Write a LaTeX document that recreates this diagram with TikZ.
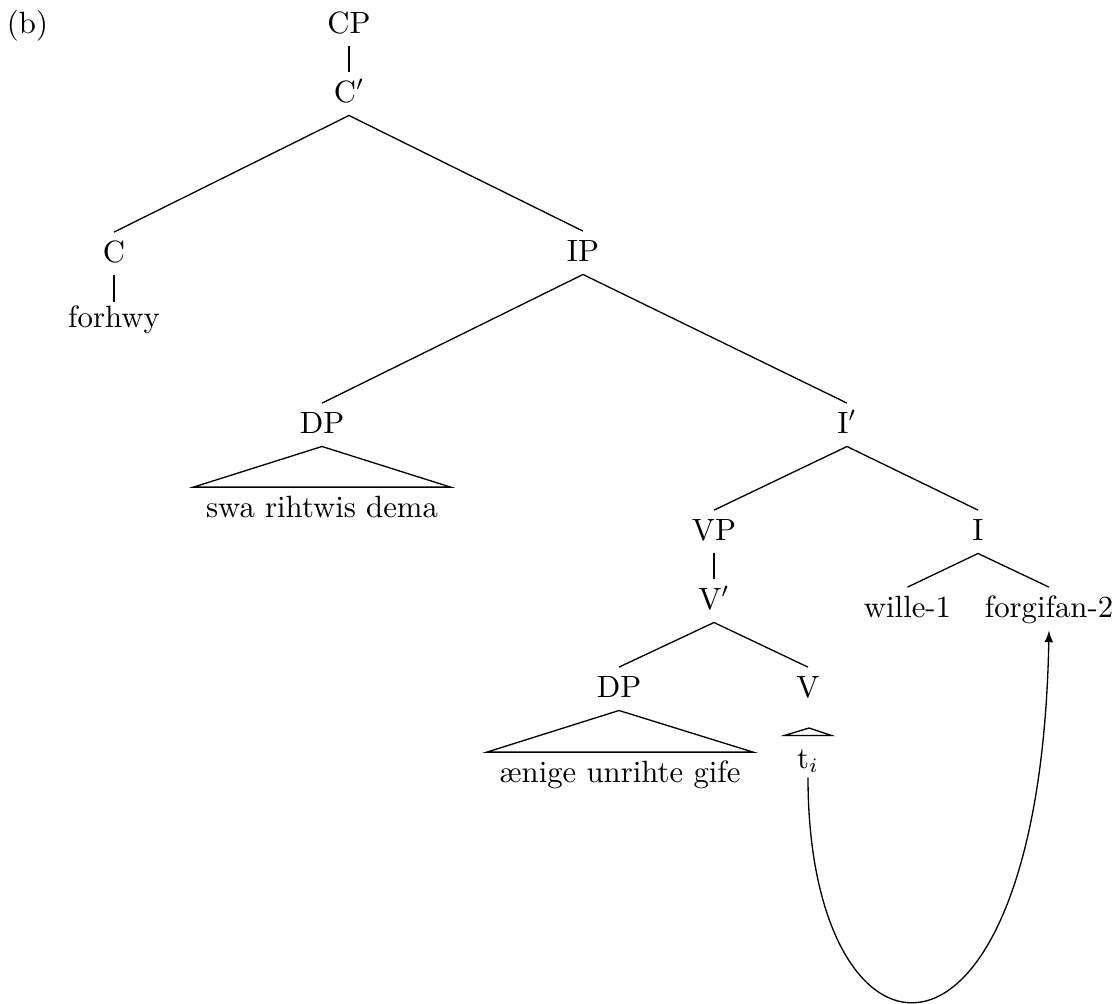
\documentclass[tikz,border=0pt]{standalone}
\usepackage{fontspec}
\usetikzlibrary{arrows.meta,calc}
\begin{document}
\begin{tikzpicture}[x=0.3413pt,y=-0.3413pt,
  lbl/.style={anchor=base,inner ysep=0pt,inner xsep=4.1pt,text height=10pt,text depth=4.4pt,font=\fontsize{10.5}{12.6}\selectfont},
  edge/.style={line width=0.45pt},
  mover/.style={line width=0.45pt,-{Latex[length=4pt,width=3pt]}}]
\useasboundingbox (0,0) rectangle (1119,1003);
% labels
\node[lbl] (b) at (27.5,33) {(b)};
\node[lbl] (CP) at (349,33) {CP};
\node[lbl] (Cbar) at (349,102) {C$'$};
\node[lbl] (C) at (114,262) {C};
\node[lbl,text height=8.5pt] (forhwy) at (114,327) {forhwy};
\node[lbl] (IP) at (583,261) {IP};
\node[lbl] (DPa) at (322,433) {DP};
\node[lbl] (swa) at (322,517) {swa rihtwis dema};
\node[lbl] (Ibar) at (847,433) {I$'$};
\node[lbl] (VP) at (714,540) {VP};
\node[lbl] (Vbar) at (714,609) {V$'$};
\node[lbl] (I) at (978,540) {I};
\node[lbl] (wille) at (907.5,617) {wille-1};
\node[lbl] (forgifan) at (1049,617) {forgifan-2};
\node[lbl] (DPb) at (619,697) {DP};
\node[lbl] (aenige) at (620,782) {ænige unrihte gife};
\node[lbl] (V) at (808,697) {V};
\node[lbl,text height=10.9pt,text depth=3pt,minimum width=15.7pt] (t) at (808,768) {t$_i$};
\coordinate (troof) at (809,728);
% edges
\draw[edge] (CP.south) -- (Cbar.north);
\draw[edge] (C.north) -- (Cbar.south) -- (IP.north);
\draw[edge] (C.south) -- (forhwy.north);
\draw[edge] (DPa.north) -- (IP.south) -- (Ibar.north);
\draw[edge] (DPa.south) -- (swa.north west) -- (swa.north east) -- cycle;
\draw[edge] (VP.north) -- (Ibar.south) -- (I.north);
\draw[edge] (VP.south) -- (Vbar.north);
\draw[edge] (DPb.north) -- (Vbar.south) -- (V.north);
\draw[edge] (DPb.south) -- (aenige.north west) -- (aenige.north east) -- cycle;
\draw[edge] (wille.north) -- (I.south) -- (forgifan.north);
\draw[edge] (troof) -- (t.north west) -- (t.north east) -- cycle;
% movement arrow
\draw[mover] (t.south) .. controls +(0,311) and +(-9,478) .. (forgifan.south);
\end{tikzpicture}
\end{document}
